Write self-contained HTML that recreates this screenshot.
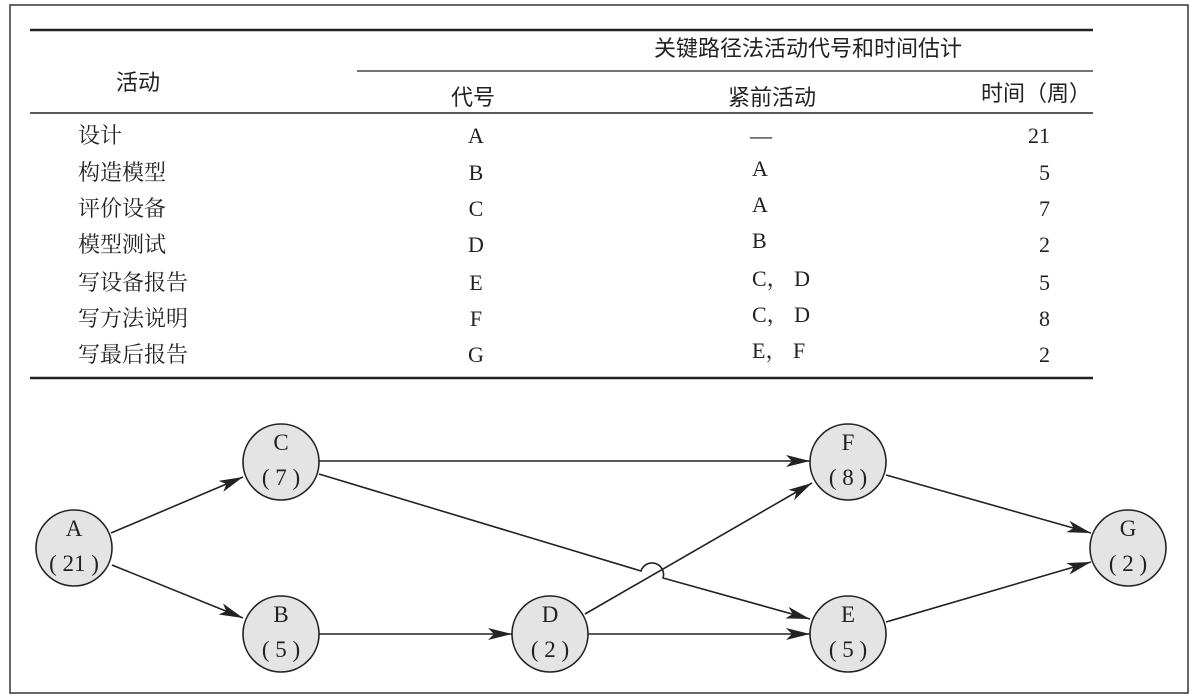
<!DOCTYPE html>
<html><head><meta charset="utf-8"><style>
body{margin:0;background:#fff;}
svg{display:block;}
text{font-family:"Liberation Serif","Noto Serif CJK SC",serif;fill:#222;}
.cj{font-family:"Liberation Sans","Noto Sans CJK SC",sans-serif;}
.cs{font-family:"Liberation Serif","Noto Serif CJK SC",serif;}
</style></head><body>
<svg width="1199" height="699" viewBox="0 0 1199 699" xmlns="http://www.w3.org/2000/svg">
<defs><marker id="ar" viewBox="0 0 24 12" refX="24" refY="6" markerWidth="24" markerHeight="12" markerUnits="userSpaceOnUse" orient="auto"><path d="M0,0 L24,6 L0,12 L6,6 Z" fill="#222"/></marker></defs>
<rect x="10" y="5" width="1178" height="688" fill="none" stroke="#333" stroke-width="1.5"/>
<line x1="30" y1="30" x2="1093" y2="30" stroke="#222" stroke-width="2.5"/>
<line x1="357" y1="71" x2="1093" y2="71" stroke="#222" stroke-width="1.2"/>
<line x1="30" y1="113" x2="1093" y2="113" stroke="#222" stroke-width="1.5"/>
<line x1="30" y1="378" x2="1093" y2="378" stroke="#222" stroke-width="2.5"/>
<g font-size="22">
<text class="cj" x="138" y="90" text-anchor="middle">活动</text>
<text class="cj" x="808" y="56" text-anchor="middle">关键路径法活动代号和时间估计</text>
<text class="cj" x="473" y="105" text-anchor="middle">代号</text>
<text class="cj" x="772" y="105" text-anchor="middle">紧前活动</text>
<text class="cj" x="1036" y="101" text-anchor="middle">时间（周）</text>
</g>
<g font-size="22">
<text x="78" y="143" class="cs">设计</text>
<text x="78" y="180" class="cs">构造模型</text>
<text x="78" y="216" class="cs">评价设备</text>
<text x="78" y="252" class="cs">模型测试</text>
<text x="78" y="290" class="cs">写设备报告</text>
<text x="78" y="326" class="cs">写方法说明</text>
<text x="78" y="362" class="cs">写最后报告</text>
</g>
<g font-size="22" text-anchor="middle">
<text x="476" y="143">A</text><text x="476" y="180">B</text><text x="476" y="216">C</text><text x="476" y="252">D</text><text x="476" y="290">E</text><text x="476" y="326">F</text><text x="476" y="362">G</text>
</g>
<g font-size="22">
<text x="750" y="143">—</text><text x="752" y="176">A</text><text x="752" y="212">A</text><text x="752" y="248">B</text><text x="752" y="286">C， D</text><text x="752" y="322">C， D</text><text x="752" y="358">E， F</text>
</g>
<g font-size="22" text-anchor="end">
<text x="1050" y="143">21</text><text x="1050" y="180">5</text><text x="1050" y="216">7</text><text x="1050" y="252">2</text><text x="1050" y="290">5</text><text x="1050" y="326">8</text><text x="1050" y="362">2</text>
</g>
<g stroke="#222" stroke-width="1.6" fill="none">
<line x1="111" y1="533" x2="243" y2="477" marker-end="url(#ar)"/>
<line x1="112" y1="565" x2="243" y2="618" marker-end="url(#ar)"/>
<line x1="319" y1="461" x2="810" y2="461" marker-end="url(#ar)"/>
<path d="M319,474 L641,571 A11,11 0 0 1 663,578 L810,619" marker-end="url(#ar)"/>
<line x1="319" y1="634" x2="512" y2="634" marker-end="url(#ar)"/>
<line x1="588" y1="634" x2="810" y2="634" marker-end="url(#ar)"/>
<line x1="585" y1="614" x2="812" y2="483" marker-end="url(#ar)"/>
<line x1="886" y1="475" x2="1091" y2="533" marker-end="url(#ar)"/>
<line x1="886" y1="622" x2="1091" y2="562" marker-end="url(#ar)"/>
</g>
<g fill="#e4e4e4" stroke="#222" stroke-width="1.6">
<circle cx="74" cy="548" r="38"/><circle cx="281" cy="462" r="38"/><circle cx="281" cy="634" r="38"/>
<circle cx="550" cy="634" r="38"/><circle cx="848" cy="462" r="38"/><circle cx="848" cy="634" r="38"/><circle cx="1128" cy="548" r="38"/>
</g>
<g font-size="23" text-anchor="middle" xml:space="preserve">
<text x="74" y="536">A</text><text x="74" y="571">( 21 )</text>
<text x="281" y="450">C</text><text x="281" y="485">(  7  )</text>
<text x="281" y="622">B</text><text x="281" y="657">(  5  )</text>
<text x="550" y="622">D</text><text x="550" y="657">(  2  )</text>
<text x="848" y="450">F</text><text x="848" y="485">(  8  )</text>
<text x="848" y="622">E</text><text x="848" y="657">(  5  )</text>
<text x="1128" y="536">G</text><text x="1128" y="571">(  2  )</text>
</g>
</svg>
</body></html>
